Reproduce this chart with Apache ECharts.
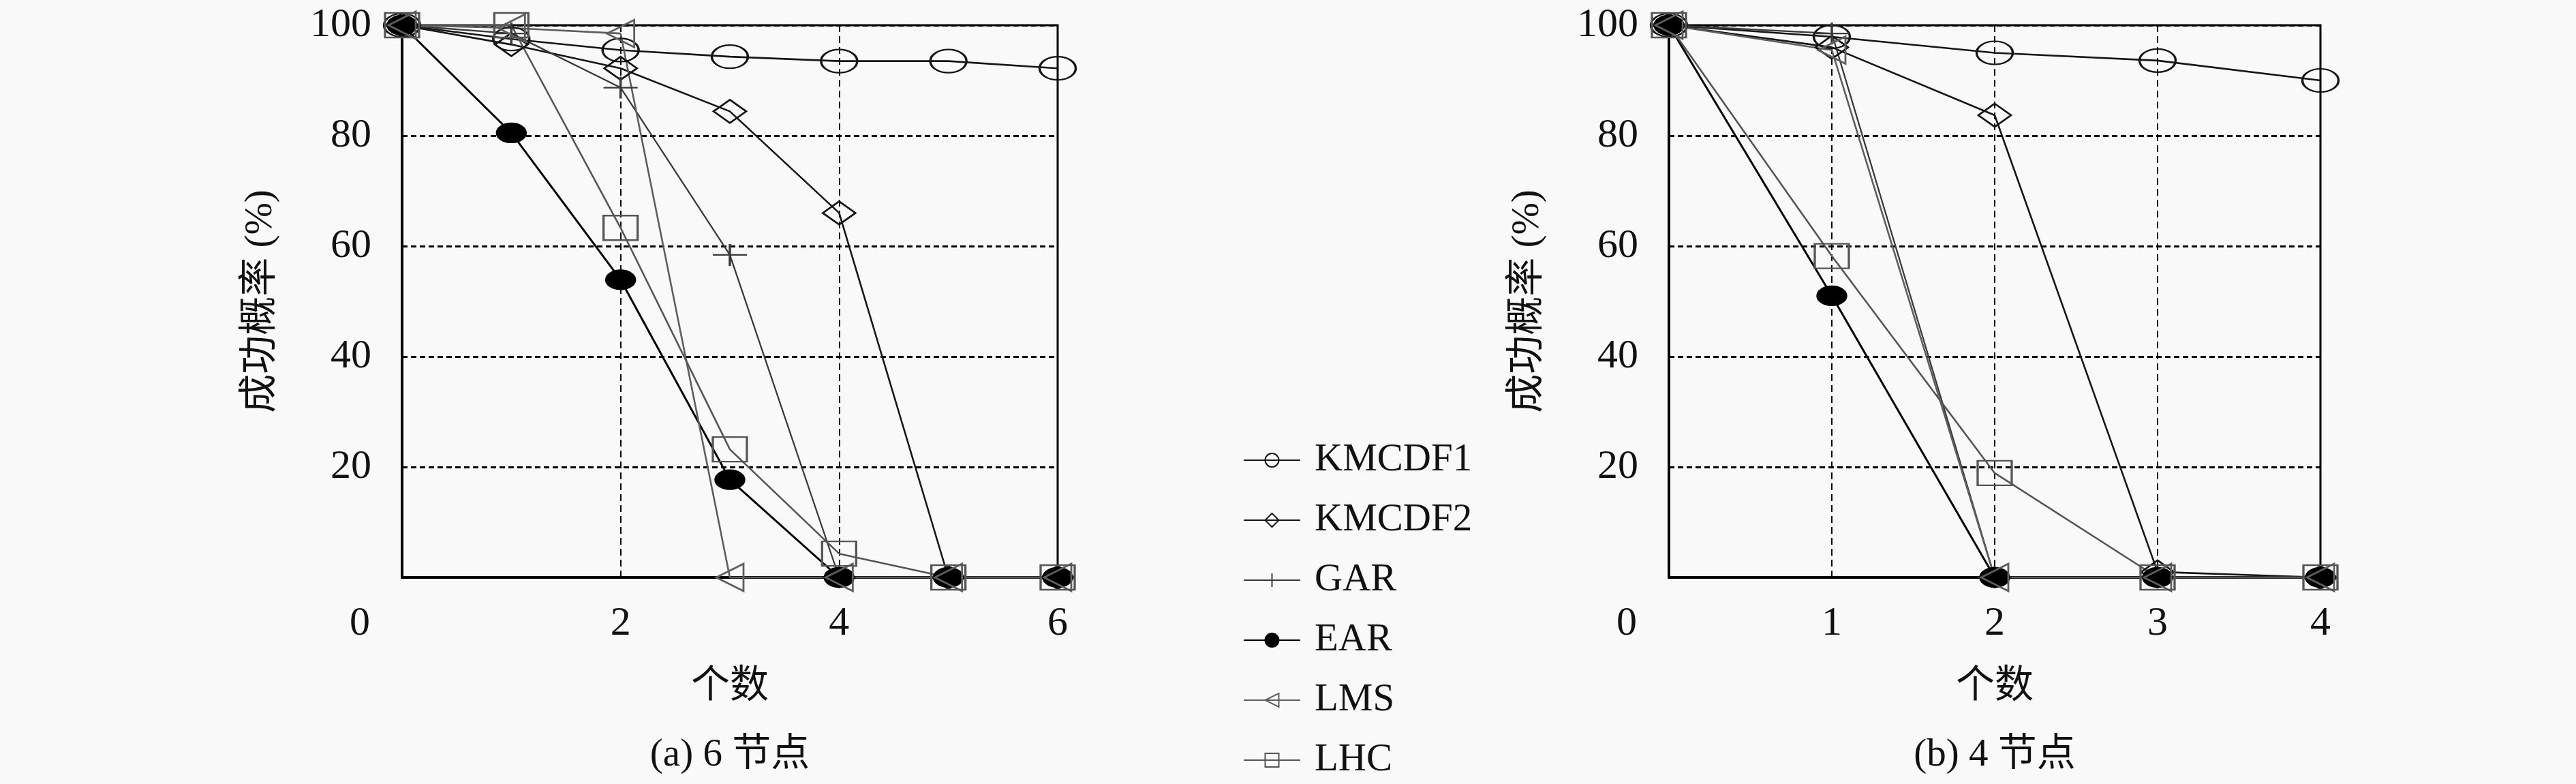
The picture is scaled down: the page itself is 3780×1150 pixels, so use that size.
<!DOCTYPE html>
<html>
<head>
<meta charset="utf-8">
<script src="https://cdn.jsdelivr.net/npm/echarts@6/dist/echarts.min.js"></script>
<style>
html, body { margin: 0; padding: 0; background: #f9f9f9; }
#chart { width: 3780px; height: 1150px; }
</style>
</head>
<body>
<div id="chart"></div>
<script>
// series order as in the legend
const seriesNames = ['KMCDF1', 'KMCDF2', 'GAR', 'EAR', 'LMS', 'LHC'];

// (a) 6 nodes
const xSix = [0, 1, 2, 3, 4, 5, 6];
const kmcdf1Six = [100, 97.5, 95.5, 94.3, 93.5, 93.5, 92.2];
const kmcdf2Six = [100, 96.5, 92.2, 84.4, 66, 0, 0];
const garSix = [100, 98.5, 88.7, 58.4, 0, 0, 0];
const earSix = [100, 80.5, 53.9, 17.7, 0, 0, 0];
const lmsSix = [100, 99.5, 98.5, 0, 0, 0, 0];
const lhcSix = [100, 100, 63.3, 23.2, 4.3, 0, 0];

// (b) 4 nodes
const xFour = [0, 1, 2, 3, 4];
const kmcdf1Four = [100, 97.9, 95, 93.6, 90];
const kmcdf2Four = [100, 96, 83.7, 1, 0];
const garFour = [100, 98.5, 0, 0, 0];
const earFour = [100, 51, 0, 0, 0];
const lmsFour = [100, 95.5, 0, 0, 0];
const lhcFour = [100, 58.2, 18.9, 0, 0];

const yTicks = [0, 20, 40, 60, 80, 100];
const captions = ['(a) 6 节点', '(b) 4 节点'];
const xName = '个数';
const yName = '成功概率 (%)';

const font = '"Liberation Serif", "Noto Sans CJK SC", serif';
const fs = 57;
const tickFs = 60;

const looks = {
    KMCDF1: { color: '#161616', symbol: 'circle', size: [53, 34], fill: 'transparent', width: 2.6 },
    KMCDF2: { color: '#161616', symbol: 'diamond', size: [48, 34], fill: 'transparent', width: 2.6 },
    GAR: { color: '#3a3a3a', symbol: 'path://M0,10L20,10M10,0L10,20', size: [50, 32], fill: 'transparent', width: 2.3 },
    EAR: { color: '#000000', symbol: 'circle', size: [42, 28], fill: '#000000', width: 3 },
    LMS: { color: '#5e5e5e', symbol: 'path://M0,10L20,0L20,20Z', size: [40, 40], fill: 'transparent', width: 2.6 },
    LHC: { color: '#555555', symbol: 'rect', size: [50, 36], fill: 'transparent', width: 2.6 },
};

function pairs(xs, ys) {
    return xs.map((x, i) => [x, ys[i]]);
}

function makeSeries(name, idx, xs, ys) {
    const l = looks[name];
    return {
        name: name,
        type: 'line',
        xAxisIndex: idx,
        yAxisIndex: idx,
        data: pairs(xs, ys),
        symbol: l.symbol,
        symbolSize: l.size,
        clip: false,
        lineStyle: { color: l.color, width: l.width },
        itemStyle: { color: l.fill, borderColor: l.color, borderWidth: 2.8 },
        emphasis: { disabled: true },
    };
}

function xAxisFor(idx, max, step) {
    return {
        type: 'value', gridIndex: idx, min: 0, max: max, interval: step,
        name: xName, nameLocation: 'middle', nameGap: 133,
        nameTextStyle: { fontSize: fs, fontFamily: font, color: '#111' },
        axisLine: { lineStyle: { color: '#000', width: 4 } },
        axisTick: { show: false },
        axisLabel: {
            margin: 38, fontSize: tickFs, fontFamily: font, color: '#111',
            formatter: v => v === 0 ? '{z|0}' : String(v),
            rich: { z: { padding: [0, 124, 0, 0], fontSize: tickFs, fontFamily: font, color: '#111' } },
        },
        splitLine: { show: true, lineStyle: { color: '#000', width: 2, type: [10, 6] } },
    };
}

function yAxisFor(idx) {
    return {
        type: 'value', gridIndex: idx, min: yTicks[0], max: yTicks[yTicks.length - 1],
        interval: yTicks[1] - yTicks[0],
        name: yName, nameLocation: 'middle', nameGap: 178, nameRotate: 90,
        nameTextStyle: { fontSize: fs, fontFamily: font, color: '#111' },
        axisLine: { show: true, lineStyle: { color: '#000', width: 4 } },
        axisTick: { show: false },
        axisLabel: {
            margin: 45, fontSize: tickFs, fontFamily: font, color: '#111',
            formatter: v => v === 0 ? '' : String(v),
        },
        splitLine: { show: true, lineStyle: { color: '#000', width: 3, type: [8, 5] } },
    };
}

const sixData = [kmcdf1Six, kmcdf2Six, garSix, earSix, lmsSix, lhcSix];
const fourData = [kmcdf1Four, kmcdf2Four, garFour, earFour, lmsFour, lhcFour];

const series = [];
seriesNames.forEach((n, i) => series.push(makeSeries(n, 0, xSix, sixData[i])));
seriesNames.forEach((n, i) => series.push(makeSeries(n, 1, xFour, fourData[i])));

const chart = echarts.init(document.getElementById('chart'));
chart.setOption({
    backgroundColor: '#f9f9f9',
    animation: false,
    grid: [
        { left: 590, top: 37, width: 962, height: 810, show: true, borderColor: '#000', borderWidth: 3, backgroundColor: 'transparent' },
        { left: 2449, top: 37, width: 956, height: 810, show: true, borderColor: '#000', borderWidth: 3, backgroundColor: 'transparent' },
    ],
    xAxis: [xAxisFor(0, 6, 2), xAxisFor(1, 4, 1)],
    yAxis: [yAxisFor(0), yAxisFor(1)],
    legend: {
        data: seriesNames,
        orient: 'vertical',
        left: 1824,
        top: 646,
        padding: 0,
        itemWidth: 83,
        itemHeight: 25,
        itemGap: 30,
        selectedMode: false,
        textStyle: { fontSize: fs, lineHeight: 58, fontFamily: font, color: '#111', padding: [0, 0, 0, 16] },
    },
    graphic: [
        { type: 'text', x: 1071, y: 1108, style: { text: captions[0], fontSize: fs, fontFamily: font, fill: '#111', align: 'center', verticalAlign: 'middle' } },
        { type: 'text', x: 2927, y: 1108, style: { text: captions[1], fontSize: fs, fontFamily: font, fill: '#111', align: 'center', verticalAlign: 'middle' } },
    ],
    series: series,
});
</script>
</body>
</html>
